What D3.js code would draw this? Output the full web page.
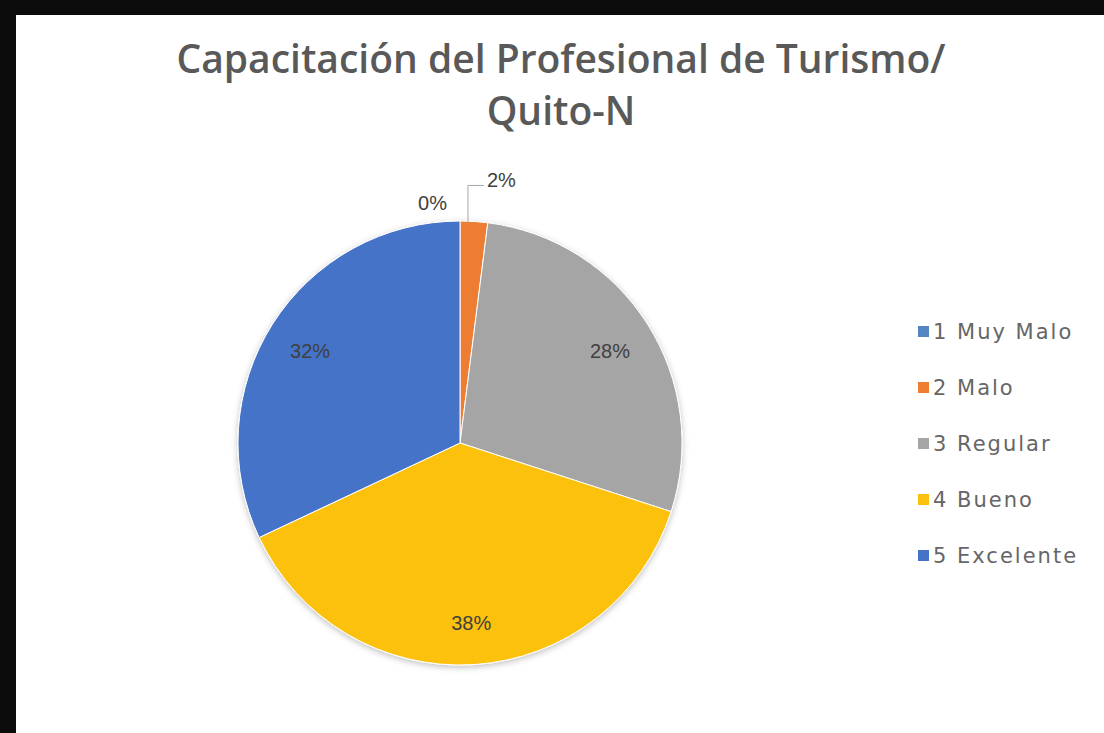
<!DOCTYPE html>
<html lang="es">
<head>
<meta charset="utf-8">
<title>Capacitación del Profesional de Turismo</title>
<script src="https://cdn.jsdelivr.net/npm/d3@7"></script>
<style>
  html, body { margin: 0; padding: 0; background: #0c0c0c; }
  svg { display: block; }
</style>
</head>
<body>
<script>
var categories = ["1 Muy Malo", "2 Malo", "3 Regular", "4 Bueno", "5 Excelente"];
var values = [0, 2, 28, 38, 32];
var colors = ["#5585c0", "#ed7d31", "#a5a5a5", "#fcc10f", "#4473c8"];
var titleLines = ["Capacitación del Profesional de Turismo/", "Quito-N"];

var w = 1104, h = 733;
var cx = 460, cy = 443, r = 222;

var svg = d3.select("body").append("svg")
  .attr("width", w)
  .attr("height", h);

var defs = svg.append("defs");
var shadow = defs.append("filter").attr("id", "shadow")
  .attr("x", "-10%").attr("y", "-10%").attr("width", "120%").attr("height", "120%");
shadow.append("feDropShadow").attr("dx", 0).attr("dy", 2).attr("stdDeviation", 3)
  .attr("flood-color", "#000").attr("flood-opacity", 0.25);

// white panel on dark frame
svg.append("rect")
  .attr("x", 16).attr("y", 15)
  .attr("width", w - 16).attr("height", h - 15)
  .attr("fill", "#ffffff");

svg.selectAll("text.title")
  .data(titleLines)
  .enter().append("text")
  .attr("class", "title")
  .attr("x", 561)
  .attr("y", function(d, i) { return 73 + i * 52; })
  .attr("text-anchor", "middle")
  .attr("font-family", "Open Sans, sans-serif")
  .attr("font-weight", 600)
  .attr("font-size", "39px")
  .attr("fill", "#595959")
  .text(function(d) { return d; });

var pie = d3.pie().sort(null).value(function(d) { return d; });
var arcs = pie(values);
var arc = d3.arc().innerRadius(0).outerRadius(r);
var labelArc = d3.arc().innerRadius(r * 0.8).outerRadius(r * 0.8);

var g = svg.append("g").attr("transform", "translate(" + cx + "," + cy + ")");

g.append("g").attr("filter", "url(#shadow)")
  .selectAll("path")
  .data(arcs)
  .enter().append("path")
  .attr("d", arc)
  .attr("fill", function(d, i) { return colors[i]; })
  .attr("stroke", "#ffffff")
  .attr("stroke-width", 1);

var pct = function(v) { return Math.round(v / d3.sum(values) * 100) + "%"; };
var labelFont = "Liberation Sans, sans-serif";

// inside labels
g.selectAll("text.inner")
  .data(arcs.filter(function(d) { return d.value >= 5; }))
  .enter().append("text")
  .attr("class", "inner")
  .attr("transform", function(d) {
    var c = labelArc.centroid(d);
    return "translate(" + c[0] + "," + (c[1] + 3) + ")";
  })
  .attr("text-anchor", "middle")
  .attr("dy", "0.35em")
  .attr("font-family", labelFont)
  .attr("font-size", "20px")
  .attr("fill", "#404040")
  .text(function(d) { return pct(d.value); });

// small slices outside
var small = arcs.filter(function(d) { return d.value < 5; });
small.forEach(function(d) {
  var a = (d.startAngle + d.endAngle) / 2;
  var x0 = Math.sin(a) * r, y0 = -Math.cos(a) * r;
  if (d.value === 0) {
    g.append("text")
      .attr("x", x0 - 13).attr("y", y0 - 18)
      .attr("text-anchor", "end")
      .attr("dy", "0.35em")
      .attr("font-family", labelFont)
      .attr("font-size", "20px")
      .attr("fill", "#404040")
      .text(pct(d.value));
  } else {
    var y1 = y0 - 36;
    g.append("path")
      .attr("d", "M" + (x0 - 6) + "," + (y0 + 2) + "V" + y1 + "H" + (x0 + 10))
      .attr("fill", "none")
      .attr("stroke", "#a6a6a6")
      .attr("stroke-width", 1);
    g.append("text")
      .attr("x", x0 + 13).attr("y", y1 - 5)
      .attr("dy", "0.35em")
      .attr("font-family", labelFont)
      .attr("font-size", "20px")
      .attr("fill", "#404040")
      .text(pct(d.value));
  }
});

// legend
var legend = svg.selectAll("g.legend")
  .data(categories)
  .enter().append("g")
  .attr("class", "legend")
  .attr("transform", function(d, i) { return "translate(918," + (332 + i * 56) + ")"; });

legend.append("rect")
  .attr("x", 0).attr("y", -6)
  .attr("width", 11).attr("height", 11)
  .attr("fill", function(d, i) { return colors[i]; });

legend.append("text")
  .attr("x", 15)
  .attr("dy", "0.35em")
  .attr("font-family", "DejaVu Sans, sans-serif")
  .attr("font-size", "21px")
  .attr("letter-spacing", "2px")
  .attr("fill", "#666666")
  .text(function(d) { return d; });
</script>
</body>
</html>
